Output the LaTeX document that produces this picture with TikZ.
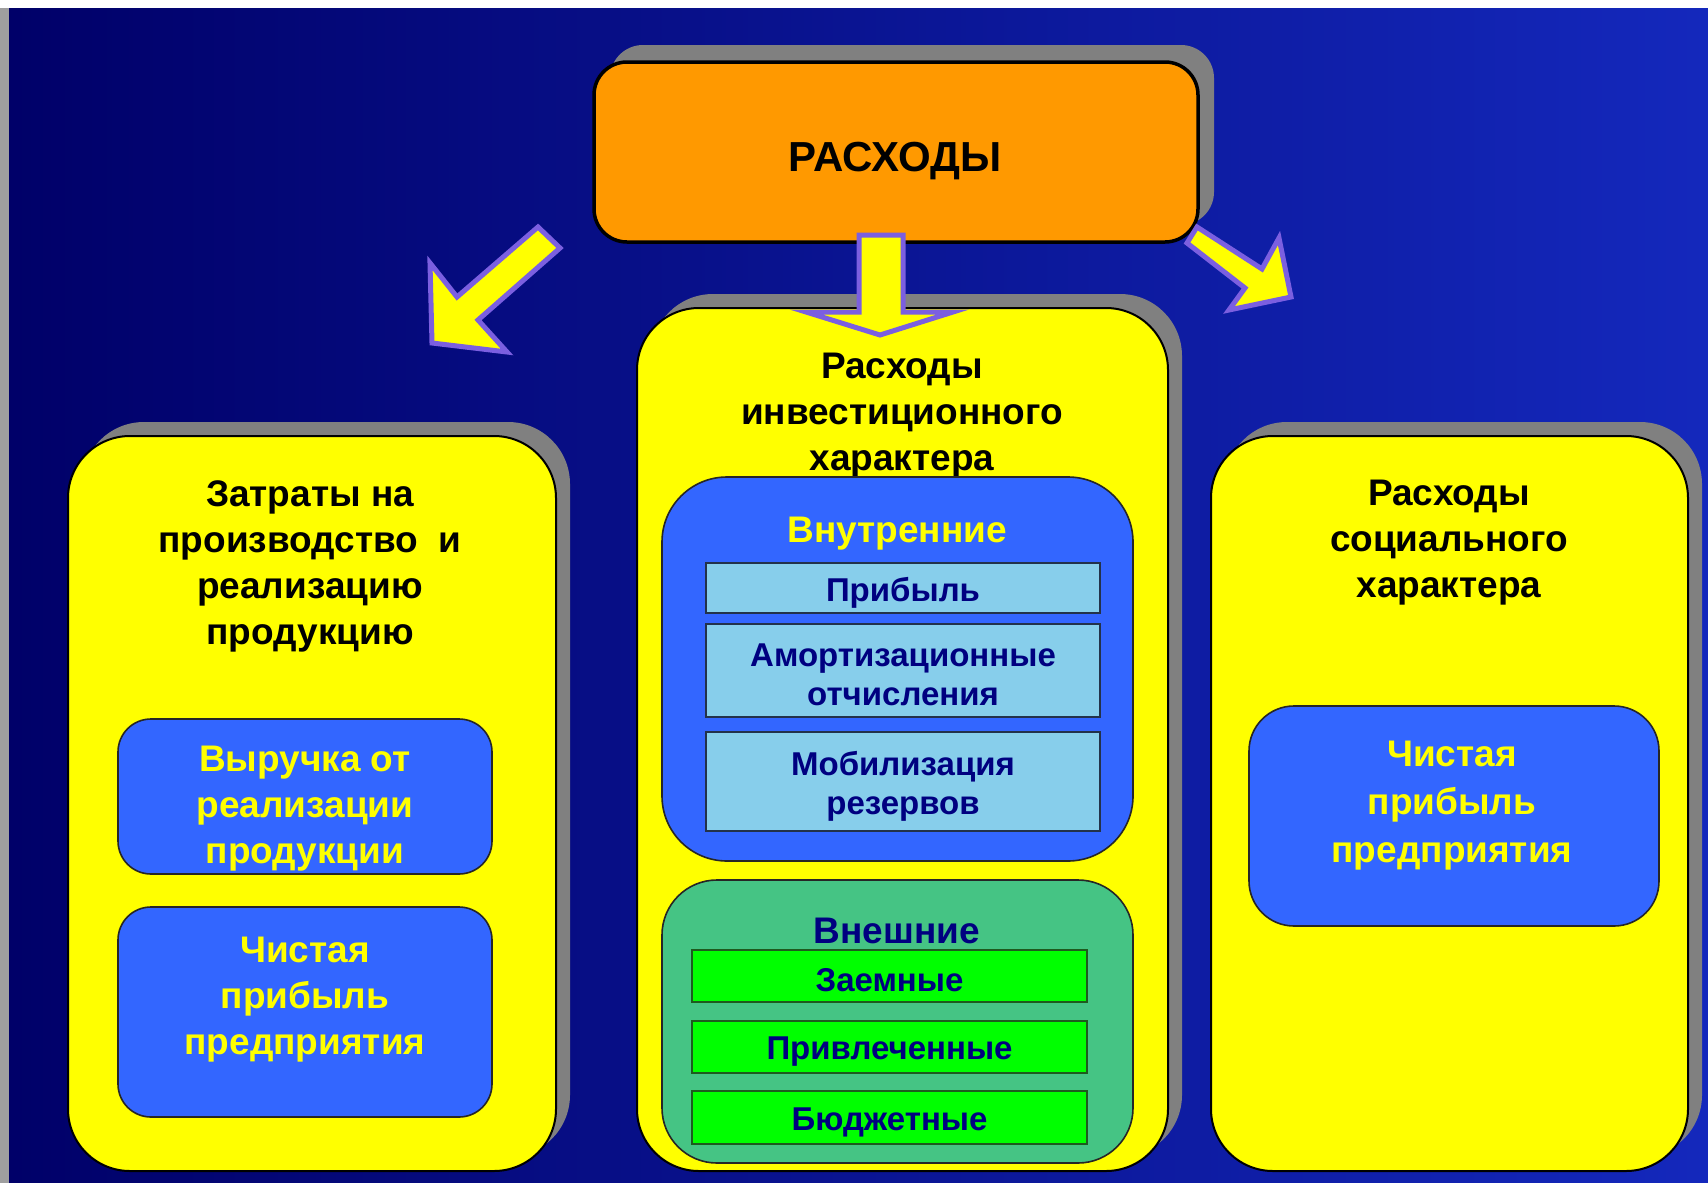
\documentclass[tikz,border=0pt]{standalone}
\usepackage{fontspec}
\setmainfont{Liberation Sans}
\usetikzlibrary{shadows}
\definecolor{bgL}{HTML}{000068}
\definecolor{bgM}{HTML}{000084}
\definecolor{bgR}{HTML}{1428BC}
\definecolor{shgray}{HTML}{808080}
\definecolor{orangefill}{HTML}{FF9900}
\definecolor{yellowfill}{HTML}{FFFF00}
\definecolor{bluefill}{HTML}{3366FF}
\definecolor{skyfill}{HTML}{87CEEB}
\definecolor{greenfill}{HTML}{45C484}
\definecolor{limefill}{HTML}{00FF00}
\definecolor{navytext}{HTML}{000080}
\definecolor{arrowpurple}{HTML}{7B5FE0}
\definecolor{limeborder}{HTML}{1E5A1E}
\definecolor{skyborder}{HTML}{23324A}
\tikzset{
  shadowed/.style={drop shadow={shadow xshift=14pt,shadow yshift=14pt,fill=shgray,opacity=1}},
  bigbox/.style={shadowed, draw=black, line width=2pt, fill=yellowfill, rounded corners=62pt, inner sep=0pt},
  topbox/.style={draw=black, line width=3.5pt, fill=orangefill, rounded corners=33pt, inner sep=0pt,
    drop shadow={shadow xshift=16pt,shadow yshift=17pt,fill=shgray,opacity=1}},
  bluecard/.style={draw=black!85, line width=1.6pt, fill=bluefill, rounded corners=#1, inner sep=0pt},
  bluecard/.default=33pt,
  greencard/.style={draw=black!85, line width=1.6pt, fill=greenfill, rounded corners=55pt, inner sep=0pt},
  skyrect/.style={draw=skyborder, line width=1.6pt, fill=skyfill, inner sep=0pt},
  limerect/.style={draw=limeborder, line width=1.6pt, fill=limefill, inner sep=0pt},
  navylabel/.style={inner sep=0pt, text=navytext, font=\fontsize{33}{39}\selectfont\bfseries, align=center, yshift=-4.5pt},
  titletext/.style={font=\fontsize{37}{46}\selectfont\bfseries, align=center, inner sep=0pt, text=black, yshift=-4pt},
  cardtext/.style={titletext, text=yellowfill},
  blockarrow/.style={fill=yellowfill, draw=arrowpurple, line width=5pt, line join=miter}
}
\begin{document}
\begin{tikzpicture}[x=1pt,y=-1pt]
\useasboundingbox (0,0) rectangle (1708,1183);
% background
\shade[left color=bgL, middle color=bgM, right color=bgR] (0,0) rectangle (1708,1183);
\fill[white] (0,0) rectangle (1708,8);
\fill[gray!75] (0,8) rectangle (9,1183);

% main boxes
\node[bigbox, minimum width=488pt, minimum height=735pt] (left) at (312,803.5) {};
\node[bigbox, minimum width=531pt, minimum height=863pt] (mid) at (902.5,739.5) {};
\node[bigbox, minimum width=477pt, minimum height=735pt] (right) at (1449.5,803.5) {};
\node[topbox, minimum width=604pt, minimum height=180pt] (top) at (896,152) {};
\node[font=\fontsize{42}{50}\selectfont\bfseries, inner sep=0pt] (toptext) at (895,161) {РАСХОДЫ};

% left column
\node[titletext] (lefttitle) at (310,562) {Затраты на\\производство\ \ и\\реализацию\\продукцию};
\node[bluecard, minimum width=374pt, minimum height=155pt] (rev) at (305,796.5) {};
\node[cardtext] (revtext) at (305,805) {Выручка от\\реализации\\продукции};
\node[bluecard, minimum width=374pt, minimum height=210pt] (netl) at (305,1012) {};
\node[cardtext] (netltext) at (305,996) {Чистая\\прибыль\\предприятия};

% middle column
\node[titletext] (midtitle) at (902,412) {Расходы\\инвестиционного\\характера};
\node[bluecard=65pt, minimum width=471pt, minimum height=384pt] (inner) at (897.5,669) {};
\node[cardtext] (innertext) at (897,530) {Внутренние};
\node[skyrect, minimum width=394pt, minimum height=50pt] (profit) at (903,588) {};
\node[navylabel] (profittext) at (profit.center) {Прибыль};
\node[skyrect, minimum width=394pt, minimum height=93pt] (amort) at (903,670.5) {};
\node[navylabel] (amorttext) at (amort.center) {Амортизационные\\отчисления};
\node[skyrect, minimum width=394pt, minimum height=99pt] (mobil) at (903,781.5) {};
\node[navylabel] (mobiltext) at (mobil.center) {Мобилизация\\резервов};
\node[greencard, minimum width=471pt, minimum height=283pt] (outer) at (897.5,1021.5) {};
\node[titletext, text=navytext, yshift=-1pt] (outertext) at (897,926) {Внешние};
\node[limerect, minimum width=395pt, minimum height=52pt] (loan) at (889.5,976) {};
\node[navylabel] (loantext) at (loan.center) {Заемные};
\node[limerect, minimum width=395pt, minimum height=52pt] (attr) at (889.5,1047) {};
\node[navylabel] (attrtext) at (attr.center) {Привлеченные};
\node[limerect, minimum width=395pt, minimum height=53pt] (budg) at (889.5,1117.5) {};
\node[navylabel] (budgtext) at (budg.center) {Бюджетные};

% right column
\node[titletext] (righttitle) at (1449,539) {Расходы\\социального\\характера};
\node[bluecard=45pt, minimum width=410pt, minimum height=220pt] (netr) at (1454,816) {};
\node[cardtext, font=\fontsize{37}{48}\selectfont\bfseries] (netrtext) at (1452,802) {Чистая\\прибыль\\предприятия};

% block arrows
\draw[blockarrow] (538,227) -- (560,248) -- (478,320) -- (507,352) -- (432,343) -- (430,263) -- (457,297) -- cycle;
\draw[blockarrow] (859,235) -- (903,235) -- (903,312) -- (953,312) -- (880,335) -- (806,312) -- (859,312) -- cycle;
\draw[blockarrow] (1197,227) -- (1262,269) -- (1279,238) -- (1291,297) -- (1229,310) -- (1245,288) -- (1187,243) -- cycle;
\end{tikzpicture}
\end{document}
